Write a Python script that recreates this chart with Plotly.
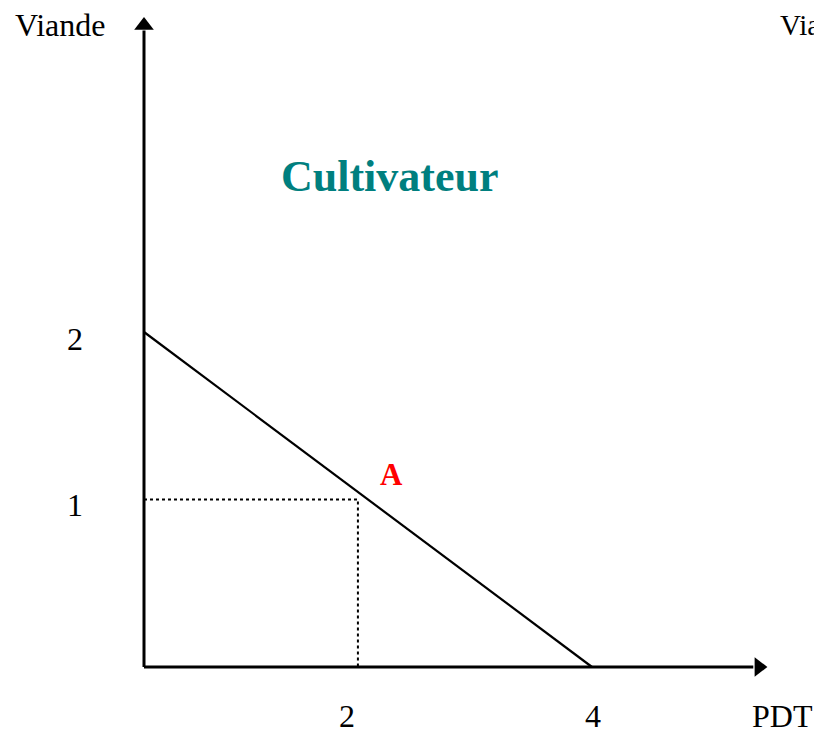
import plotly.graph_objects as go

# Data
ppf_x = [0, 4]          # PDT
ppf_y = [2, 0]          # Viande
point_a_x = 1.91        # dotted guide position (as drawn)
point_a_y = 1.0
x_tick_vals = [1.81, 4.01]
x_tick_text = ["2", "4"]
y_tick_vals = [1.96, 0.97]
y_tick_text = ["2", "1"]
x_axis_end = 5.49
y_axis_end = 3.83

serif = "Liberation Serif, Times New Roman, serif"

# page has an 8px body margin; figure is sized to fit inside the window
OFF = 8
W, H = 822 - OFF, 737 - OFF
X0, Y0 = 144, 667          # origin in window pixels
SX, SY = 112.0, 167.5      # pixels per unit

fig = go.Figure()

fig.add_trace(go.Scatter(x=[0, x_axis_end - 0.05], y=[0, 0], mode="lines",
                         line=dict(color="black", width=3), hoverinfo="skip"))
fig.add_trace(go.Scatter(x=[0, 0], y=[0, y_axis_end - 0.03], mode="lines",
                         line=dict(color="black", width=3), hoverinfo="skip"))
fig.add_trace(go.Scatter(x=[x_axis_end], y=[0], mode="markers",
                         marker=dict(symbol="triangle-right", size=17, color="black"),
                         hoverinfo="skip"))
fig.add_trace(go.Scatter(x=[0], y=[y_axis_end], mode="markers",
                         marker=dict(symbol="triangle-up", size=17, color="black"),
                         hoverinfo="skip"))

fig.add_trace(go.Scatter(x=ppf_x, y=ppf_y, mode="lines",
                         line=dict(color="black", width=2.2), hoverinfo="skip"))

fig.add_trace(go.Scatter(x=[0, point_a_x, point_a_x], y=[point_a_y, point_a_y, 0],
                         mode="lines", line=dict(color="black", width=2, dash="dot"),
                         hoverinfo="skip"))

FS = 32
ann = []
for v, t in zip(x_tick_vals, x_tick_text):
    ann.append(dict(x=v, y=-0.29, text=t, showarrow=False,
                    font=dict(family=serif, size=FS, color="black")))
for v, t in zip(y_tick_vals, y_tick_text):
    ann.append(dict(x=-0.62, y=v, text=t, showarrow=False,
                    font=dict(family=serif, size=FS, color="black")))
ann.append(dict(x=5.705, y=-0.29, text="PDT", showarrow=False,
                font=dict(family=serif, size=FS, color="black")))
ann.append(dict(x=-0.75, y=3.83, text="Viande", showarrow=False,
                font=dict(family=serif, size=FS, color="black")))
ann.append(dict(x=5.66, y=3.83, text="Viande", showarrow=False, xanchor="left",
                font=dict(family=serif, size=29, color="black")))
ann.append(dict(x=2.2, y=2.93, text="<b>Cultivateur</b>", showarrow=False,
                font=dict(family=serif, size=44, color="#007f7f")))
ann.append(dict(x=2.21, y=1.15, text="<b>A</b>", showarrow=False,
                font=dict(family=serif, size=31, color="#ff0000")))

fig.update_layout(
    width=W, height=H,
    margin=dict(l=0, r=0, t=0, b=0),
    paper_bgcolor="white", plot_bgcolor="white",
    showlegend=False,
    xaxis=dict(range=[(OFF - X0) / SX, (822 - X0) / SX], visible=False, fixedrange=True),
    yaxis=dict(range=[(Y0 - 737) / SY, (Y0 - OFF) / SY], visible=False, fixedrange=True),
    annotations=ann,
)

fig.write_html("out.html", config={"displayModeBar": False})
